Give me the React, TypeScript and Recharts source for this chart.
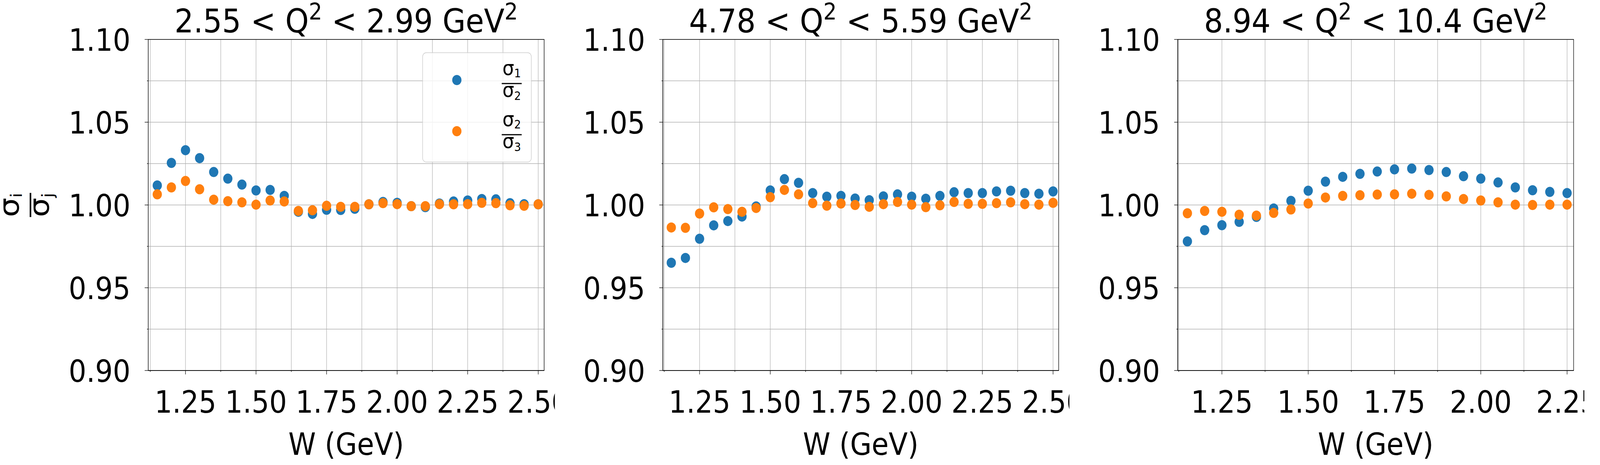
import {
  CartesianGrid,
  Legend,
  ReferenceArea,
  Scatter,
  ScatterChart,
  XAxis,
  YAxis,
} from 'recharts';

const FONT = '"DejaVu Sans", sans-serif';
const BLUE = '#1f77b4';
const ORANGE = '#ff7f0e';

// W bins (GeV)
const wFull = [
  1.15, 1.2, 1.25, 1.3, 1.35, 1.4, 1.45, 1.5, 1.55, 1.6, 1.65, 1.7, 1.75, 1.8,
  1.85, 1.9, 1.95, 2.0, 2.05, 2.1, 2.15, 2.2, 2.25, 2.3, 2.35, 2.4, 2.45, 2.5,
];
const wHigh = [
  1.15, 1.2, 1.25, 1.3, 1.35, 1.4, 1.45, 1.5, 1.55, 1.6, 1.65, 1.7, 1.75, 1.8,
  1.85, 1.9, 1.95, 2.0, 2.05, 2.1, 2.15, 2.2, 2.25,
];

// sigma1/sigma2 and sigma2/sigma3 per Q^2 bin
const lowS12 = [
  1.0118, 1.0254, 1.0331, 1.0283, 1.0199, 1.0159, 1.0123, 1.0088, 1.0091, 1.0055,
  0.9959, 0.9946, 0.9971, 0.997, 0.9977, 1.0004, 1.0018, 1.0013, 0.9993, 0.9987,
  1.0009, 1.0021, 1.0027, 1.0036, 1.0034, 1.0011, 1.0005, 1.0004,
];
const lowS23 = [
  1.0064, 1.0106, 1.0145, 1.0095, 1.0032, 1.0023, 1.0016, 1.0002, 1.0027, 1.0021,
  0.9964, 0.9968, 0.9995, 0.9989, 0.9989, 1.0004, 1.0011, 1.0005, 0.9993, 0.9993,
  1.0005, 1.0004, 1.0005, 1.0013, 1.0011, 0.9998, 0.9995, 1.0004,
];
const midS12 = [
  0.9651, 0.968, 0.9796, 0.9877, 0.9903, 0.993, 0.9991, 1.0088, 1.0156, 1.0134,
  1.0072, 1.005, 1.0055, 1.0039, 1.0029, 1.0052, 1.0064, 1.005, 1.0038, 1.0055,
  1.0077, 1.0072, 1.0072, 1.0082, 1.0086, 1.0072, 1.0068, 1.0082,
];
const midS23 = [
  0.9864, 0.9862, 0.9948, 0.9986, 0.9975, 0.9959, 0.9982, 1.0047, 1.0091, 1.0064,
  1.0011, 0.9996, 1.0009, 1.0, 0.9989, 1.0005, 1.0018, 1.0002, 0.9987, 0.9998,
  1.0018, 1.0007, 1.0007, 1.0011, 1.0016, 1.0005, 1.0002, 1.0013,
];
const highS12 = [
  0.978, 0.9848, 0.9878, 0.9898, 0.9928, 0.9979, 1.0025, 1.0086, 1.0141, 1.017,
  1.0188, 1.0202, 1.0215, 1.022, 1.0211, 1.0199, 1.0174, 1.0159, 1.0136, 1.0106,
  1.0089, 1.0079, 1.0072,
];
const highS23 = [
  0.995, 0.9964, 0.9959, 0.9941, 0.9936, 0.9952, 0.9973, 1.0009, 1.0045, 1.0055,
  1.0059, 1.0063, 1.0064, 1.0068, 1.0061, 1.0052, 1.0036, 1.0027, 1.0016, 1.0002,
  1.0, 1.0002, 1.0002,
];

// ticks (major + minor)
const xTicksFull = [1.125, 1.25, 1.375, 1.5, 1.625, 1.75, 1.875, 2.0, 2.125, 2.25, 2.375, 2.5];
const xTicksHigh = [1.125, 1.25, 1.375, 1.5, 1.625, 1.75, 1.875, 2.0, 2.125, 2.25];
const yTicks = [0.9, 0.925, 0.95, 0.975, 1.0, 1.025, 1.05, 1.075, 1.1];

const q2Low = ['2.55', '4.78', '8.94'];
const q2High = ['2.99', '5.59', '10.4'];

const toPoints = (w: number[], r: number[]) => w.map((x, i) => ({ w: x, r: r[i] }));

const panels = [
  { w: wFull, s12: lowS12, s23: lowS23, ticks: xTicksFull, domain: [1.118, 2.521], left: 415.5 },
  { w: wFull, s12: midS12, s23: midS23, ticks: xTicksFull, domain: [1.12, 2.52], left: 1860 },
  { w: wHigh, s12: highS12, s23: highS23, ticks: xTicksHigh, domain: [1.122, 2.269], left: 3304.5 },
];

const FIG_W = 4490;
const FIG_H = 1191;
const PLOT_W = 1111;
const PLOT_TOP = 101;
const PLOT_BOTTOM = 949;
const Y_AXIS_W = 415;

const isMajor = (v: number, per: number) => Math.abs(v * per - Math.round(v * per)) < 1e-6;

const XTick = ({ x, y, payload }: any) => {
  const major = isMajor(payload.value, 4);
  return (
    <g>
      <line x1={x} x2={x} y1={y} y2={y + (major ? 10 : 3.5)} stroke="#000" strokeWidth={1.3} />
      {major && (
        <text x={x} y={y + 107.7} textAnchor="middle" fontSize={78} fontFamily={FONT} fill="#000">
          {payload.value.toFixed(2)}
        </text>
      )}
    </g>
  );
};

const YTick = ({ x, y, payload }: any) => {
  const major = isMajor(payload.value, 20);
  return (
    <g>
      <line x1={x} x2={x - (major ? 10 : 3.5)} y1={y} y2={y} stroke="#000" strokeWidth={1.3} />
      {major && (
        <text x={x - 49.7} y={y + 29} textAnchor="end" fontSize={78} fontFamily={FONT} fill="#000">
          {payload.value.toFixed(2)}
        </text>
      )}
    </g>
  );
};

const Dot = (color: string) => (props: any) =>
  <circle cx={props.cx} cy={props.cy} r={13} fill={color} />;

// sigma_a / sigma_b stacked fraction
const Frac = ({ num, den }: { num: string; den: string }) => (
  <g fontFamily={FONT} fill="#000">
    <line x1={-28} x2={28} y1={0} y2={0} stroke="#000" strokeWidth={3} />
    <text x={0} y={-22} textAnchor="middle" fontSize={52}>
      σ<tspan fontSize={30} dy={6}>{num}</tspan>
    </text>
    <text x={0} y={34} textAnchor="middle" fontSize={52}>
      σ<tspan fontSize={30} dy={8}>{den}</tspan>
    </text>
  </g>
);

const LegendBox = () => (
  <svg width={307} height={282} style={{ display: 'block' }}>
    <rect x={1} y={1} width={305} height={280} rx={10} ry={10} fill="#fff" fillOpacity={0.8} stroke="#cccccc" strokeWidth={1.5} />
    <circle cx={97} cy={71} r={13} fill={BLUE} />
    <g transform="translate(251,80)">
      <Frac num="1" den="2" />
    </g>
    <circle cx={97} cy={202} r={13} fill={ORANGE} />
    <g transform="translate(251,211)">
      <Frac num="2" den="3" />
    </g>
  </svg>
);

const YLabel = ({ viewBox }: any) => (
  <g transform={`translate(${viewBox.x + 84.5},${viewBox.y + viewBox.height / 2}) rotate(-90)`}>
    <line x1={-31} x2={31} y1={0} y2={0} stroke="#000" strokeWidth={4.5} />
    <text x={0} y={-33} textAnchor="middle" fontSize={78} fontFamily={FONT} fill="#000">
      σ<tspan fontSize={45} dy={9}>i</tspan>
    </text>
    <text x={0} y={52} textAnchor="middle" fontSize={78} fontFamily={FONT} fill="#000">
      σ<tspan fontSize={45} dy={12}>j</tspan>
    </text>
  </g>
);

const XLabel = ({ viewBox }: any) => (
  <text x={viewBox.x + viewBox.width / 2} y={viewBox.y + 216} textAnchor="middle" fontSize={78} fontFamily={FONT} fill="#000">
    W (GeV)
  </text>
);

const makeTitle = (lo: string, hi: string) => ({ viewBox }: any) => (
  <text x={viewBox.x + viewBox.width / 2} y={viewBox.y - 18.3} textAnchor="middle" fontSize={84} fontFamily={FONT} fill="#000">
    {lo} {'<'} Q<tspan fontSize={59} dy={-33}>2</tspan>
    <tspan dy={33}> {'<'} {hi} GeV</tspan>
    <tspan fontSize={59} dy={-33}>2</tspan>
  </text>
);

const App = () => {
  // the browser caps the viewport width, so map the 4490x1191 figure onto whatever it gives us
  const vw = typeof window !== 'undefined' && window.innerWidth > 0 ? window.innerWidth : FIG_W;
  const vh = typeof window !== 'undefined' && window.innerHeight > 0 ? window.innerHeight : FIG_H;
  const sx = Math.min(1, vw / FIG_W);
  const sy = Math.min(1, vh / FIG_H);
  return (
    <div
      style={{
        position: 'absolute',
        left: 0,
        top: 0,
        width: FIG_W * sx,
        height: FIG_H * sy,
        overflow: 'hidden',
        background: '#fff',
      }}
    >
      <div
        style={{
          position: 'absolute',
          left: 0,
          top: 0,
          width: FIG_W,
          height: FIG_H,
          transform: `scale(${sx}, ${sy})`,
          transformOrigin: '0 0',
        }}
      >
        {panels.map((p, i) => (
          <div key={i} style={{ position: 'absolute', left: p.left - Y_AXIS_W, top: 0 }}>
            <ScatterChart
              width={Y_AXIS_W + PLOT_W + 30}
              height={FIG_H}
              margin={{ top: PLOT_TOP, right: 30, bottom: 0, left: 0 }}
            >
              <CartesianGrid stroke="#b0b0b0" strokeWidth={1.3} />
              <XAxis
                dataKey="w"
                type="number"
                domain={p.domain}
                allowDataOverflow
                ticks={p.ticks}
                interval={0}
                height={FIG_H - PLOT_BOTTOM}
                tickSize={0}
                tickMargin={0}
                tickLine={false}
                axisLine={{ stroke: '#000', strokeWidth: 1.3 }}
                tick={(props: any) => <XTick {...props} />}
                label={{ content: XLabel }}
              />
              <YAxis
                dataKey="r"
                type="number"
                domain={[0.9, 1.1]}
                allowDataOverflow
                ticks={yTicks}
                interval={0}
                width={Y_AXIS_W}
                tickSize={0}
                tickMargin={0}
                tickLine={false}
                axisLine={{ stroke: '#000', strokeWidth: 1.3 }}
                tick={(props: any) => <YTick {...props} />}
                label={i === 0 ? { content: YLabel } : undefined}
              />
              <ReferenceArea
                x1={p.domain[0]}
                x2={p.domain[1]}
                y1={0.9}
                y2={1.1}
                fill="none"
                stroke="#000"
                strokeWidth={1.3}
                label={{ content: makeTitle(q2Low[i], q2High[i]) }}
              />
              <Scatter data={toPoints(p.w, p.s12)} fill={BLUE} shape={Dot(BLUE)} isAnimationActive={false} />
              <Scatter data={toPoints(p.w, p.s23)} fill={ORANGE} shape={Dot(ORANGE)} isAnimationActive={false} />
              {i === 0 && (
                <Legend
                  layout="vertical"
                  align="center"
                  verticalAlign="middle"
                  wrapperStyle={{ position: 'absolute', left: 1185 - (p.left - Y_AXIS_W), top: 134, width: 307, height: 282 }}
                  content={() => <LegendBox />}
                />
              )}
            </ScatterChart>
          </div>
        ))}
      </div>
    </div>
  );
};

export default App;
